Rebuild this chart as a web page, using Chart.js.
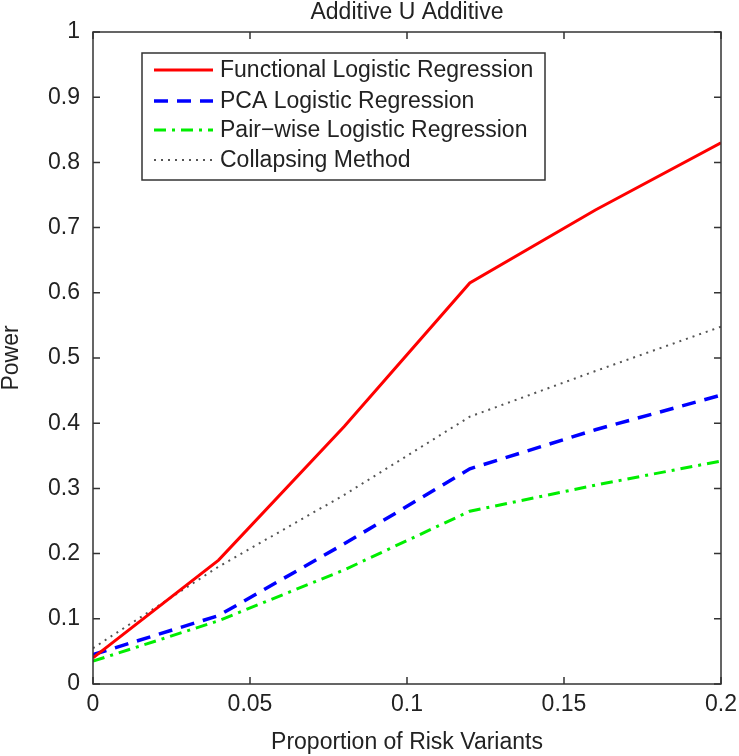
<!DOCTYPE html>
<html><head><meta charset="utf-8">
<script src="https://cdn.jsdelivr.net/npm/chart.js@4"></script>
<style>html,body{margin:0;padding:0;background:#fff}#wrap{width:739px;height:756px}</style>
</head><body><div id="wrap"><canvas id="c" width="739" height="756"></canvas></div>
<script>
const chartTitle = "Additive U Additive";
const xTitle = "Proportion of Risk Variants";
const yTitle = "Power";
const proportions = [0, 0.04, 0.08, 0.12, 0.16, 0.2];
const functionalLR = [0.040, 0.190, 0.395, 0.615, 0.727, 0.830];
const pcaLR = [0.045, 0.105, 0.215, 0.330, 0.390, 0.443];
const pairwiseLR = [0.035, 0.097, 0.175, 0.265, 0.305, 0.342];
const collapsing = [0.055, 0.180, 0.290, 0.410, 0.480, 0.548];
const seriesNames = ["Functional Logistic Regression","PCA Logistic Regression","Pair\u2212wise Logistic Regression","Collapsing Method"];
const xTicks = [0, 0.05, 0.1, 0.15, 0.2];
const yTicks = [0,0.1,0.2,0.3,0.4,0.5,0.6,0.7,0.8,0.9,1];

const FONT = "'Liberation Sans', Arial, sans-serif";
const pts = arr => proportions.map((x,i)=>({x, y: arr[i]}));

const styles = [
  {color:'#ff0000', width:3, dash:[]},
  {color:'#0000ff', width:3.5, dash:[14,9]},
  {color:'#00ee00', width:3, dash:[12,6,3,6]},
  {color:'#555555', width:2, dash:[2,5]}
];
const datasets = [functionalLR, pcaLR, pairwiseLR, collapsing].map((d,i)=>({
  label: seriesNames[i], data: pts(d), borderColor: styles[i].color, backgroundColor: styles[i].color,
  borderWidth: styles[i].width, borderDash: styles[i].dash, pointRadius: 0, tension: 0, fill:false
}));

const frame = {
  id:'frame',
  afterDraw(chart){
    const {ctx, chartArea:a, scales:{x,y}} = chart;
    ctx.save();
    ctx.strokeStyle = '#333'; ctx.lineWidth = 1.5; ctx.setLineDash([]);
    ctx.strokeRect(a.left, a.top, a.right-a.left, a.bottom-a.top);
    const tl = 7;
    ctx.beginPath();
    xTicks.forEach(v=>{const px=x.getPixelForValue(v); ctx.moveTo(px,a.bottom); ctx.lineTo(px,a.bottom-tl); ctx.moveTo(px,a.top); ctx.lineTo(px,a.top+tl);});
    yTicks.forEach(v=>{const py=y.getPixelForValue(v); ctx.moveTo(a.left,py); ctx.lineTo(a.left+tl,py); ctx.moveTo(a.right,py); ctx.lineTo(a.right-tl,py);});
    ctx.stroke();
    // title
    ctx.fillStyle = '#222'; ctx.font = '23px ' + FONT; ctx.textAlign='center'; ctx.textBaseline='middle';
    ctx.fillText(chartTitle, (a.left+a.right)/2, 13);
    // legend
    const L = {x:142, y:53, w:403, h:127};
    ctx.fillStyle='#fff'; ctx.fillRect(L.x,L.y,L.w,L.h);
    ctx.strokeStyle='#333'; ctx.lineWidth=1.5; ctx.strokeRect(L.x,L.y,L.w,L.h);
    ctx.font = '23px ' + FONT; ctx.textAlign='left';
    const rows = [70, 101, 130, 160];
    chart.data.datasets.forEach((ds,i)=>{
      ctx.strokeStyle = ds.borderColor; ctx.lineWidth = ds.borderWidth; ctx.setLineDash(ds.borderDash);
      ctx.beginPath(); ctx.moveTo(154, rows[i]); ctx.lineTo(213, rows[i]); ctx.stroke();
      ctx.setLineDash([]); ctx.fillStyle='#222';
      ctx.fillText(ds.label, 220, rows[i]+1);
    });
    ctx.restore();
  }
};

new Chart(document.getElementById('c'), {
  type:'line',
  data:{datasets},
  options:{
    responsive:false, animation:false, devicePixelRatio:1,
    layout:{padding:{top:32, right:18, left:0, bottom:0}},
    plugins:{legend:{display:false}, title:{display:false}, tooltip:{enabled:false}},
    scales:{
      x:{type:'linear', min:0, max:0.2,
        afterBuildTicks(s){ s.ticks = xTicks.map(v=>({value:v})); },
        afterFit(s){ s.height = 72; s.paddingRight = 0; s.paddingLeft = 0; },
        grid:{display:false, drawTicks:false}, border:{display:false},
        ticks:{padding:7, color:'#222', font:{family:FONT, size:23}, callback:v=>String(Number(v.toFixed(2))), maxRotation:0},
        title:{display:true, text:xTitle, color:'#222', font:{family:FONT, size:23}, padding:{top:0,bottom:0}}
      },
      y:{type:'linear', min:0, max:1,
        afterBuildTicks(s){ s.ticks = yTicks.map(v=>({value:v})); },
        afterFit(s){ s.width = 93; s.paddingTop = 0; s.paddingBottom = 0; },
        grid:{display:false, drawTicks:false}, border:{display:false},
        ticks:{padding:13, color:'#222', font:{family:FONT, size:23}, callback:v=>String(Number(v.toFixed(2)))},
        title:{display:true, text:yTitle, color:'#222', font:{family:FONT, size:23, lineHeight:1}, padding:{top:0,bottom:0}}
      }
    }
  },
  plugins:[frame]
});
</script></body></html>
